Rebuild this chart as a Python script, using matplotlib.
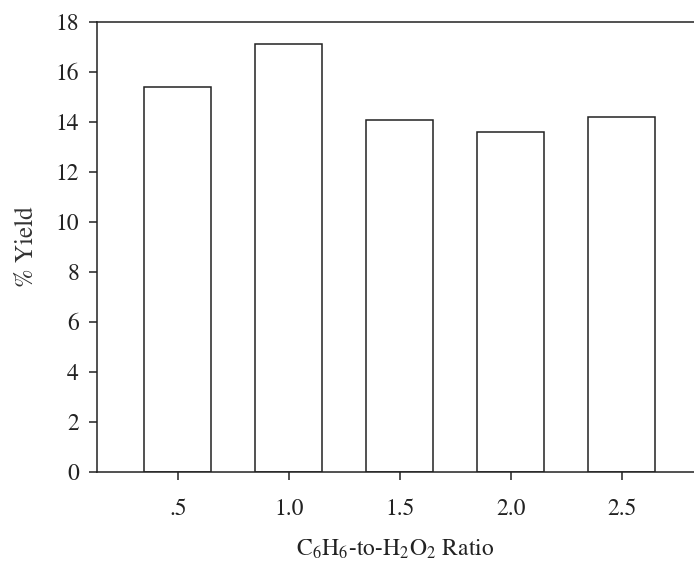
import matplotlib
matplotlib.use("Agg")
import matplotlib.pyplot as plt

ratios = [0.5, 1.0, 1.5, 2.0, 2.5]
tick_labels = [".5", "1.0", "1.5", "2.0", "2.5"]
yield_pct = [15.4, 17.1, 14.1, 13.6, 14.2]
y_ticks = [0, 2, 4, 6, 8, 10, 12, 14, 16, 18]

# STIX ships with matplotlib and is a Times look-alike
plt.rcParams["font.family"] = "STIXGeneral"
plt.rcParams["mathtext.fontset"] = "stix"

fig = plt.figure(figsize=(6.94, 5.67), dpi=100)
ax = fig.add_axes([97 / 694, 1 - 472 / 567, 1 - 97 / 694, (472 - 22) / 567])

ax.bar(ratios, yield_pct, width=0.3, facecolor="white", edgecolor="#222222", linewidth=1.1)

ax.set_xlim(0.136, 2.826)
ax.set_ylim(0, 18)
ax.set_xticks(ratios)
ax.set_xticklabels(tick_labels)
ax.set_yticks(y_ticks)

for s in ["left", "bottom", "top"]:
    ax.spines[s].set_linewidth(1.1)
    ax.spines[s].set_color("#222222")
ax.spines["right"].set_visible(False)

ax.tick_params(axis="both", direction="out", length=6, width=1.1, labelsize=17, colors="#222222")
ax.tick_params(axis="x", pad=13)
ax.tick_params(axis="y", pad=7)

ax.set_xlabel(r"$\mathrm{C_6H_6}$-to-$\mathrm{H_2O_2}$ Ratio", fontsize=17, labelpad=13, color="#222222")
ax.set_ylabel("% Yield", fontsize=18, labelpad=12, color="#333333")

fig.savefig("out.png", dpi=100)
